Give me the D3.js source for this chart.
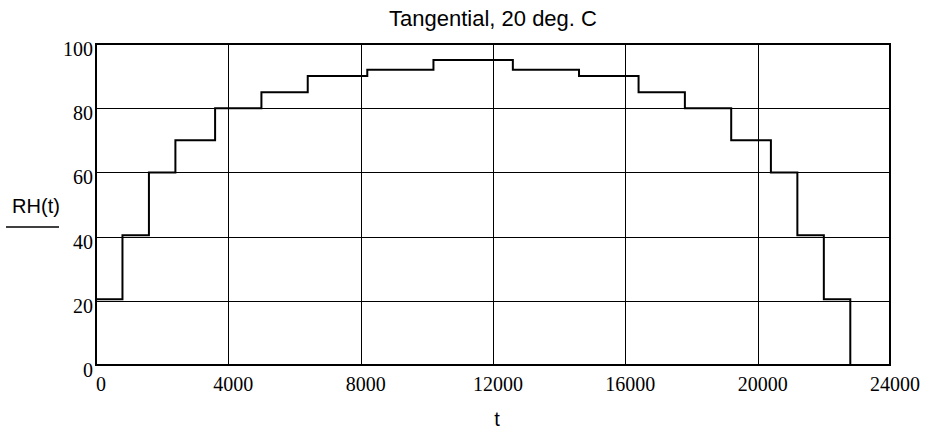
<!DOCTYPE html>
<html>
<head>
<meta charset="utf-8">
<script src="https://cdn.jsdelivr.net/npm/d3@7"></script>
<style>
  html, body { margin: 0; padding: 0; background: #fff; }
  svg { display: block; }
</style>
</head>
<body>
<div id="chart"></div>
<script>
// Step start times (t) and RH level held from that time on
const stepTimes = [0, 800, 1600, 2400, 3600, 5000, 6400, 8200, 10200, 12600, 14600, 16400, 17800, 19200, 20400, 21200, 22000, 22800, 24000];
const rhValues  = [20.5, 40.4, 60, 70, 80, 85, 90, 92, 95, 92, 90, 85, 80, 70, 60, 40.4, 20.5, 0, 0];
const xTicks = [0, 4000, 8000, 12000, 16000, 20000, 24000];
const yTicks = [0, 20, 40, 60, 80, 100];

const chartTitle = "Tangential, 20 deg. C";
const xLabel = "t";
const yLabel = "RH(t)";

const width = 932, height = 432;
const margin = { top: 44, right: 42, bottom: 67, left: 96 };
const innerW = width - margin.left - margin.right;
const innerH = height - margin.top - margin.bottom;

const svg = d3.select("#chart").append("svg")
    .attr("width", width)
    .attr("height", height);

const g = svg.append("g")
    .attr("transform", `translate(${margin.left},${margin.top})`);

const x = d3.scaleLinear().domain([0, 24000]).range([0, innerW]);
const y = d3.scaleLinear().domain([0, 100]).range([innerH, 0]);

// grid lines
g.append("g").selectAll("line")
    .data(xTicks.slice(1, -1))
    .enter().append("line")
    .attr("x1", d => Math.round(x(d)) + 0.5)
    .attr("x2", d => Math.round(x(d)) + 0.5)
    .attr("y1", 0).attr("y2", innerH)
    .attr("stroke", "#000").attr("stroke-width", 1);

g.append("g").selectAll("line")
    .data(yTicks.slice(1, -1))
    .enter().append("line")
    .attr("y1", d => Math.round(y(d)) + 0.5)
    .attr("y2", d => Math.round(y(d)) + 0.5)
    .attr("x1", 0).attr("x2", innerW)
    .attr("stroke", "#000").attr("stroke-width", 1);

// axes (labels only, serif like the original)
const xAxis = g.append("g")
    .attr("transform", `translate(0,${innerH})`)
    .call(d3.axisBottom(x).tickValues(xTicks).tickSize(0).tickPadding(0).tickFormat(d3.format("d")));
xAxis.select(".domain").remove();
xAxis.selectAll("text")
    .attr("dy", null)
    .attr("y", 26)
    .attr("x", 4.5)
    .attr("font-family", "'Liberation Serif', 'DejaVu Serif', serif")
    .attr("font-size", 20)
    .attr("fill", "#000");

const yAxis = g.append("g")
    .call(d3.axisLeft(y).tickValues(yTicks).tickSize(0).tickPadding(0).tickFormat(d3.format("d")));
yAxis.select(".domain").remove();
yAxis.selectAll("text")
    .attr("dy", null)
    .attr("x", -3)
    .attr("y", 11.5)
    .attr("font-family", "'Liberation Serif', 'DejaVu Serif', serif")
    .attr("font-size", 20)
    .attr("fill", "#000");

// data step line
const line = d3.line()
    .x((d, i) => x(stepTimes[i]))
    .y(d => y(d))
    .curve(d3.curveStepAfter);

g.append("path")
    .datum(rhValues)
    .attr("d", line)
    .attr("fill", "none")
    .attr("stroke", "#000")
    .attr("stroke-width", 2);

// frame
g.append("rect")
    .attr("x", 0).attr("y", 0)
    .attr("width", innerW).attr("height", innerH)
    .attr("fill", "none")
    .attr("stroke", "#000")
    .attr("stroke-width", 2);

// title
svg.append("text")
    .attr("x", margin.left + innerW / 2)
    .attr("y", 26)
    .attr("text-anchor", "middle")
    .attr("font-family", "'Liberation Sans', Arial, sans-serif")
    .attr("font-size", 22)
    .attr("fill", "#000")
    .text(chartTitle);

// x label
svg.append("text")
    .attr("x", margin.left + innerW / 2 + 4)
    .attr("y", 426)
    .attr("text-anchor", "middle")
    .attr("font-family", "'Liberation Sans', Arial, sans-serif")
    .attr("font-size", 20)
    .attr("fill", "#000")
    .text(xLabel);

// y label with underline
svg.append("text")
    .attr("x", 36)
    .attr("y", 213)
    .attr("text-anchor", "middle")
    .attr("font-family", "'Liberation Sans', Arial, sans-serif")
    .attr("font-size", 20)
    .attr("fill", "#000")
    .text(yLabel);

svg.append("line")
    .attr("x1", 6).attr("x2", 59)
    .attr("y1", 227).attr("y2", 227)
    .attr("stroke", "#000")
    .attr("stroke-width", 1.5);
</script>
</body>
</html>
